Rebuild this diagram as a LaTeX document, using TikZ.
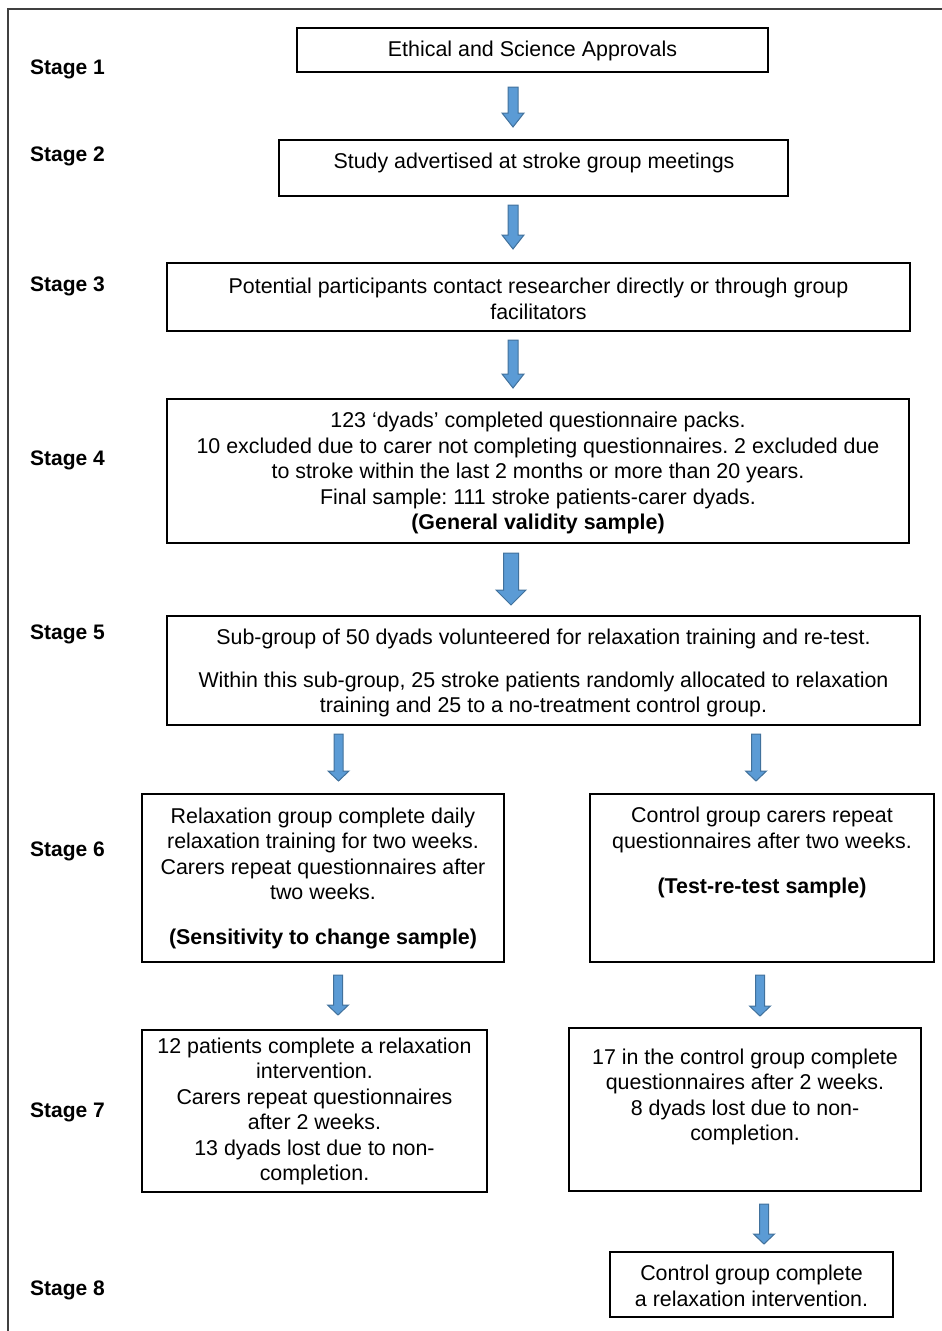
\documentclass[tikz,border=0pt]{standalone}
\usepackage{fontspec}
\setmainfont{Liberation Sans}
\usetikzlibrary{calc,fit}
\frenchspacing
\definecolor{arrfill}{HTML}{5B9BD5}
\definecolor{arrdraw}{HTML}{41719C}
\definecolor{frame}{HTML}{404040}
\tikzset{
  box/.style={draw=black, line width=1.4pt, inner sep=0pt, rectangle},
  txt/.style={align=center, inner sep=0pt, font=\fontsize{21.4}{25.5}\selectfont, yshift=-2pt},
  stagelbl/.style={anchor=west, inner sep=0pt, font=\fontsize{21}{25}\selectfont\bfseries, yshift=-2pt},
  blockarrow/.style={fill=arrfill, draw=arrdraw, line width=1pt, line join=miter}
}
% #1 start coord, #2 tip coord, #3 half shaft, #4 half head, #5 head length
\newcommand\fatarrow[5]{%
  \draw[blockarrow] ($(#1)+(-#3,0)$) -- ($(#2)+(-#3,-#5)$) -- ($(#2)+(-#4,-#5)$) -- (#2)
    -- ($(#2)+(#4,-#5)$) -- ($(#2)+(#3,-#5)$) -- ($(#1)+(#3,0)$) -- cycle;}
\begin{document}
\begin{tikzpicture}[x=1pt,y=-1pt]
\useasboundingbox (0,0) rectangle (942,1331);
% frame
\coordinate (fTL) at (8,9);
\coordinate (fTR) at (942,9);
\coordinate (fBL) at (8,1331);
\draw[frame, line width=2pt] (fTR) -- (fTL) -- (fBL);

% stage labels
\node[stagelbl] (s1) at (30,67) {Stage 1};
\node[stagelbl] (s2) at (30,154) {Stage 2};
\node[stagelbl] (s3) at (30,284) {Stage 3};
\node[stagelbl] (s4) at (30,458) {Stage 4};
\node[stagelbl] (s5) at (30,632) {Stage 5};
\node[stagelbl] (s6) at (30,849) {Stage 6};
\node[stagelbl] (s7) at (30,1110) {Stage 7};
\node[stagelbl] (s8) at (30,1288) {Stage 8};

% boxes
\node[box, fit={(297,28) (768,72)}] (b1) {};
\node[box, fit={(279,140) (788,196)}] (b2) {};
\node[box, fit={(167,263) (910,331)}] (b3) {};
\node[box, fit={(167,399) (909,543)}] (b4) {};
\node[box, fit={(167,616) (920,725)}] (b5) {};
\node[box, fit={(142,794) (504,962)}] (b6l) {};
\node[box, fit={(590,794) (934,962)}] (b6r) {};
\node[box, fit={(142,1030) (487,1192)}] (b7l) {};
\node[box, fit={(569,1028) (921,1191)}] (b7r) {};
\node[box, fit={(610,1252) (893,1317)}] (b8) {};

% texts
\node[txt] (t1) at (532.5,49) {Ethical and Science Approvals};
\node[txt] (t2) at (534,161) {Study advertised at stroke group meetings};
\node[txt] (t3) at (538.5,297) {Potential participants contact researcher directly or through group\\facilitators};
\node[txt] (t4) at (538,471) {123 ‘dyads’ completed questionnaire packs.\\10 excluded due to carer not completing questionnaires. 2 excluded due\\to stroke within the last 2 months or more than 20 years.\\Final sample: 111 stroke patients-carer dyads.\\\textbf{(General validity sample)}};
\node[txt] (t5) at (543.5,671) {Sub-group of 50 dyads volunteered for relaxation training and re-test.\\[17.5pt]Within this sub-group, 25 stroke patients randomly allocated to relaxation\\training and 25 to a no-treatment control group.};
\node[txt] (t6l) at (323,876.5) {Relaxation group complete daily\\relaxation training for two weeks.\\Carers repeat questionnaires after\\two weeks.\\[19.5pt]\textbf{(Sensitivity to change sample)}};
\node[txt] (t6r) at (762,850.5) {Control group carers repeat\\questionnaires after two weeks.\\[19.5pt]\textbf{(Test-re-test sample)}};
\node[txt] (t7l) at (314.5,1109.5) {12 patients complete a relaxation\\intervention.\\Carers repeat questionnaires\\after 2 weeks.\\13 dyads lost due to non-\\completion.};
\node[txt] (t7r) at (745,1095) {17 in the control group complete\\questionnaires after 2 weeks.\\8 dyads lost due to non-\\completion.};
\node[txt] (t8) at (751.5,1284) {Control group complete\\a relaxation intervention.};

% arrow end points
\coordinate (a1s) at (513,87);   \coordinate (a1e) at (513,127);
\coordinate (a2s) at (513,205);  \coordinate (a2e) at (513,249);
\coordinate (a3s) at (513,340);  \coordinate (a3e) at (513,388);
\coordinate (a4s) at (511,553);  \coordinate (a4e) at (511,605);
\coordinate (a5ls) at (338.5,734); \coordinate (a5le) at (338.5,781);
\coordinate (a5rs) at (756,734);   \coordinate (a5re) at (756,781);
\coordinate (a6ls) at (338,975);   \coordinate (a6le) at (338,1015);
\coordinate (a6rs) at (760,975);   \coordinate (a6re) at (760,1016);
\coordinate (a7rs) at (764,1204);  \coordinate (a7re) at (764,1244);

\fatarrow{a1s}{a1e}{5}{11}{14}
\fatarrow{a2s}{a2e}{5}{11}{14}
\fatarrow{a3s}{a3e}{5}{11}{14}
\fatarrow{a4s}{a4e}{7.5}{15}{15}
\fatarrow{a5ls}{a5le}{4.5}{10.5}{10}
\fatarrow{a5rs}{a5re}{4.5}{10.5}{10}
\fatarrow{a6ls}{a6le}{4.5}{10.5}{10}
\fatarrow{a6rs}{a6re}{4.5}{10.5}{10}
\fatarrow{a7rs}{a7re}{4.5}{10.5}{10}
\end{tikzpicture}
\end{document}
